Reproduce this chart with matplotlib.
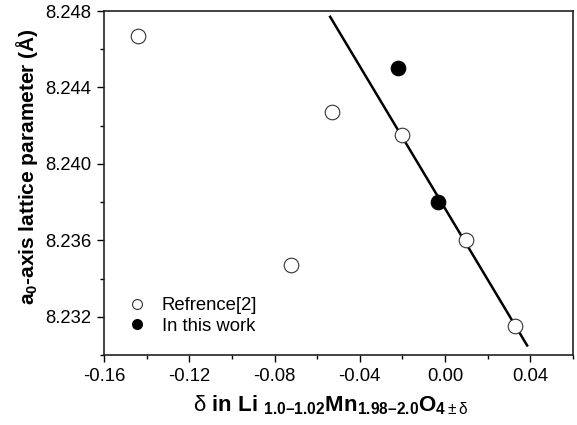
import matplotlib
matplotlib.use("Agg")
import matplotlib.pyplot as plt
from matplotlib.ticker import MultipleLocator, FormatStrFormatter

plt.rcParams['font.family'] = ['Liberation Sans', 'DejaVu Sans']
plt.rcParams['mathtext.fontset'] = 'custom'
plt.rcParams['mathtext.rm'] = 'Liberation Sans'
plt.rcParams['mathtext.bf'] = 'Liberation Sans:bold'
plt.rcParams['mathtext.it'] = 'Liberation Sans:italic'

# Data
ref_x = [-0.144, -0.0532, -0.0203, -0.0722, 0.0100, 0.0327]
ref_y = [8.2467, 8.2427, 8.2415, 8.2347, 8.2360, 8.2315]
work_x = [-0.0223, -0.0033]
work_y = [8.2450, 8.2380]
fit_x = [-0.0539, 0.0385]
fit_y = [8.2477, 8.2305]

fig = plt.figure(figsize=(5.77, 4.25), dpi=100)
ax = fig.add_axes([0.1802, 0.1647, 0.8128, 0.8093])

ax.plot(fit_x, fit_y, color='black', lw=1.8, zorder=2)
ax.plot(ref_x, ref_y, 'o', ms=10.5, mfc='white', mec='#333333', mew=0.8,
        linestyle='none', zorder=3, label='Refrence[2]')
ax.plot(work_x, work_y, 'o', ms=10.5, mfc='black', mec='black', mew=0.8,
        linestyle='none', zorder=3, label='In this work')

ax.set_xlim(-0.16, 0.06)
ax.set_ylim(8.230, 8.248)
ax.xaxis.set_major_locator(MultipleLocator(0.04))
ax.xaxis.set_minor_locator(MultipleLocator(0.02))
ax.yaxis.set_major_locator(MultipleLocator(0.004))
ax.yaxis.set_minor_locator(MultipleLocator(0.002))
ax.xaxis.set_major_formatter(FormatStrFormatter('%.2f'))
ax.yaxis.set_major_formatter(FormatStrFormatter('%.3f'))
ax.tick_params(which='both', direction='out', top=False, right=False, labelsize=13.3, colors='black')
ax.tick_params(which='major', length=5, width=1, pad=4)
ax.tick_params(which='minor', length=3, width=1)
for s in ax.spines.values():
    s.set_linewidth(1.2)
    s.set_color('#222222')

ax.set_ylabel(r'$\mathbf{a}_{\mathbf{0}}$' + '-axis lattice parameter (Å)',
              fontsize=15, fontweight='bold', va='center')
ax.yaxis.set_label_coords(-0.165, 0.547)
ax.set_xlabel(r'$\mathrm{δ}\ \mathbf{in\ Li}\ _{\mathbf{1.0–1.02}}\mathbf{Mn}_{\mathbf{1.98–2.0}}\mathbf{O}_{\mathbf{4}\pm\mathrm{δ}}$',
              fontsize=16, va='center')
ax.xaxis.set_label_coords(0.484, -0.145)

leg = ax.legend(loc='upper left', bbox_to_anchor=(0.0505, 0.168), frameon=False,
                fontsize=13.3, markerscale=0.68, handlelength=1.0, handletextpad=0.85,
                borderpad=0, borderaxespad=0, labelspacing=0.2)

fig.savefig('out.png', dpi=100)
